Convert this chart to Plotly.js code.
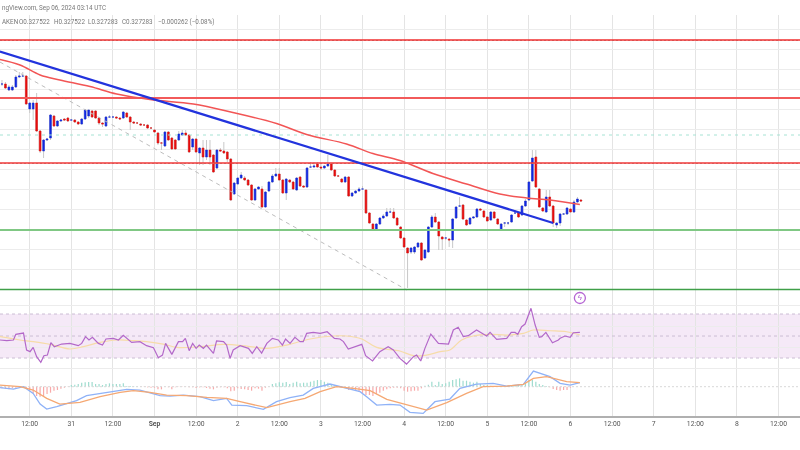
<!DOCTYPE html>
<html><head><meta charset="utf-8">
<script src="https://cdn.plot.ly/plotly-3.0.1.min.js"></script>
<style>html,body{margin:0;padding:0;background:#fff;overflow:hidden}#chart{width:800px;height:450px;filter:blur(0.55px)}</style>
</head><body><div id="chart"></div>
<script>
// hourly candles, prices in units of 0.0001, first candle = 20 h before Aug 31 00:00
const firstHour = -20;
const opens = [3510,3510,3498,3498,3504,3524,3526,3526,3460,3460,3472,3416,3376,3398,3402,3446,3426,3436,3440,3442,
3438,3438,3434,3430,3440,3446,3456,3456,3442,3432,3426,3444,3444,3444,3442,3442,3452,3444,3434,3432,3430,3428,3428,3422,3418,3412,3392,3386,3414,3402,3398,3398,3408,3412,3408,3384,3400,3372,3382,3364,3378,3368,3342,3378,3376,3374,3360,3290,
3310,3322,3322,3318,3308,3278,3300,3300,3264,3296,3314,3326,3330,3318,3292,3318,3314,3298,3324,3306,3304,3344,3344,3350,3344,3342,3346,3350,3338,3326,3320,3314,3324,3286,3292,3296,3300,3298,3252,3230,3218,3230,3242,3246,3254,3254,3242,3224,
3202,3182,3174,3174,3184,3192,3162,3174,3224,3244,3234,3204,3202,3200,3198,3242,3266,3268,3238,3230,3242,3244,3260,3256,3244,3238,3254,3240,3218,3232,3232,3234,3252,3252,3248,3266,3278,3316,3364,3300,3262,3254,3284,3266,3228,3232,3250,3250,3260,3254,3274,3278];
const closes = [3510,3502,3504,3504,3524,3526,3526,3470,3472,3472,3416,3376,3398,3400,3448,3426,3436,3438,3438,3436,
3438,3434,3430,3440,3458,3458,3444,3442,3432,3430,3444,3444,3444,3442,3440,3454,3444,3434,3432,3432,3428,3428,3422,3422,3414,3392,3392,3414,3398,3380,3380,3410,3412,3408,3374,3400,3374,3382,3364,3378,3364,3334,3378,3376,3372,3360,3278,3312,
3322,3328,3318,3308,3278,3300,3304,3264,3294,3314,3326,3330,3318,3292,3320,3314,3300,3322,3306,3304,3342,3344,3346,3344,3342,3346,3350,3338,3326,3326,3314,3324,3286,3292,3296,3300,3300,3252,3232,3218,3230,3242,3246,3254,3254,3242,3228,3202,
3184,3172,3182,3184,3192,3158,3178,3224,3244,3234,3206,3200,3202,3198,3240,3264,3266,3240,3228,3242,3244,3260,3258,3244,3236,3254,3242,3230,3230,3232,3232,3248,3252,3244,3266,3276,3314,3362,3304,3264,3256,3284,3266,3232,3232,3250,3250,3262,3254,3274,3280,3276];
const highs = [3518,3514,3508,3508,3528,3534,3534,3528,3474,3478,3492,3418,3400,3402,3450,3448,3438,3440,3442,3444,
3440,3440,3436,3442,3460,3458,3458,3458,3444,3434,3446,3448,3446,3446,3444,3456,3454,3446,3436,3434,3432,3430,3430,3424,3420,3414,3394,3416,3416,3404,3400,3416,3418,3418,3410,3402,3402,3384,3398,3398,3398,3370,3380,3382,3394,3376,3362,3314,
3324,3334,3326,3320,3310,3302,3306,3306,3296,3316,3330,3342,3342,3320,3322,3320,3316,3324,3326,3308,3344,3354,3354,3354,3352,3348,3368,3352,3340,3328,3322,3326,3326,3294,3298,3304,3306,3300,3254,3232,3232,3244,3250,3262,3262,3262,3244,3226,
3204,3184,3184,3186,3194,3194,3180,3226,3248,3252,3236,3206,3204,3202,3242,3266,3284,3270,3240,3244,3246,3262,3262,3258,3246,3256,3256,3242,3232,3234,3234,3250,3258,3254,3268,3280,3316,3378,3378,3302,3264,3298,3298,3268,3234,3252,3252,3264,3262,3278,3284,3280];
const lows = [3506,3500,3496,3496,3502,3522,3524,3468,3452,3438,3414,3372,3362,3396,3398,3424,3424,3434,3436,3434,
3436,3432,3428,3428,3438,3442,3442,3440,3428,3424,3424,3442,3442,3440,3440,3440,3442,3418,3430,3430,3426,3426,3420,3420,3412,3388,3378,3384,3396,3378,3378,3396,3406,3406,3372,3378,3372,3348,3348,3358,3348,3332,3340,3374,3370,3354,3276,3288,
3308,3320,3316,3306,3276,3276,3298,3262,3262,3294,3312,3324,3316,3290,3278,3312,3298,3296,3304,3302,3302,3342,3342,3342,3338,3340,3344,3336,3324,3324,3312,3312,3284,3284,3290,3294,3298,3250,3230,3216,3216,3228,3240,3244,3252,3240,3226,3200,
3182,3102,3170,3170,3182,3156,3160,3172,3222,3232,3178,3178,3198,3184,3182,3240,3264,3238,3226,3228,3240,3242,3256,3242,3234,3236,3240,3228,3216,3224,3228,3232,3250,3242,3246,3264,3276,3314,3302,3262,3254,3252,3264,3224,3222,3226,3248,3248,3252,3252,3272,3274];
// horizontal levels
const resistanceLevels = [3598,3482,3352];
const fibGreyLevels = [3597,3481,3351];
const midLevel = [3408];
const supportLevels = [3218,3099];
const gridLevels = [3620,3580,3540,3500,3460,3420,3380,3340,3300,3260,3220,3180,3140,3100,3068,3026,2984,2942];
// trend line and 100-hour average
const trendX = [-20.6,139], trendY = [3575,3232];
const diagX = [-20.6,96.8], diagY = [3554,3098];
const maX = [-20.6,-14.8,-9,-3.3,5.4,13.1,22.7,35.2,46.6,59.2,67.9,79.4,87,94.8,104.3,114,123.6,131.4,138.1,146.7];
const maY = [3559,3548,3528,3518,3505,3490,3479,3470,3453,3431,3409,3390,3371,3357,3331,3310,3290,3282,3278,3269];
// RSI
const rsiX = [-20.6,-18.6,-16.7,-16,-13.8,-12.9,-11.9,-11,-10,-8.8,-7.9,-6.9,-5.9,-4.9,-2.8,-.4,2,3,4.1,5.1,6.1,7.8,9,10,12.1,13.6,15,16.5,17.4,19.8,21.7,23.7,25.1,26.3,27.2,29,30.9,32.1,32.9,34,35,36,36.9,38.1,39,41,41.9,43.9,44.8,45.8,46.7,48.7,51.1,52.2,53.5,54.9,56.4,58,59.7,60.9,61.8,63.1,64.5,66,66.9,67.9,69.8,71.8,73.8,75.9,77.5,78.5,79.9,83.8,84.9,86.9,89,91.4,92.9,94.8,96.7,98.7,99.6,100.8,102,103.7,105.9,108.8,110.2,111.6,113.1,114.5,116.9,119.8,120.8,122.7,125.6,126.9,128,128.8,129.9,130.9,132.6,133.8,135,135.7,136.9,138.8,140.5,141,142.4,143.9,144.8,146.7];
const rsiY = [46.4,45.8,46.4,51.5,52.7,37.3,35.8,39.7,31.2,26.1,32.1,32.7,43.9,40.3,42.7,43.3,41.2,43.3,49.4,46.4,48.8,43.3,41.8,47.3,47.9,46.4,50.6,46.4,44.2,44.9,41.2,39.4,30.3,32.7,43.3,33.3,44.9,44.9,47.9,36.7,43.3,38.8,41.8,38.8,41.8,34.2,45.5,44.9,41.8,29.7,37.3,41.2,38.8,34.2,40.3,34.5,43.3,47.9,46.4,41.8,47.3,43.3,48.8,44.9,44.9,52.4,53.3,52.4,53.9,47.9,47.3,44.9,38.2,42.4,32.1,27.3,35.8,40.3,37.3,29.7,24.5,31.2,32.7,27.3,38.8,51.8,43.3,42.7,55.5,57.9,49.4,50.3,55.5,50,53.3,47,47.9,53.3,53.3,51.5,58.5,60.9,75.2,60,48.8,49.4,53.3,43.9,46.4,47.9,50,48.8,53,53.3];
const rsiMaX = [-20.6,-14.8,-11,-6.1,-.4,3.5,8.3,13.1,17.9,21.7,26.5,30.4,37.1,43.9,50.6,56.4,62.1,68.9,75.6,79.4,83.8,88.1,94.8,98.7,102.5,106.4,109.2,112.6,115.9,120.8,125.6,130.4,133.3,138.1,142.9,146.7];
const rsiMaY = [49.4,46.4,44.9,42.4,38.2,40.3,44.2,46.4,45.8,44.9,42.7,39.7,40.3,42.4,40.9,38.8,41.8,47.3,50,50,47.3,39.7,36.4,32.1,32.7,35.8,37.3,46.4,50,51.5,50.9,52.4,55.5,54.8,53.9,50.9];
const rsiLevels = [70,50,30];
// MACD
const macdX = [-20.6,-16.7,-13.8,-11,-9,-7.1,-4.2,-1.3,1.5,4.4,7.3,12.1,16,19.8,25.6,28.5,32.3,37.1,41,44.8,46.3,50.6,55.4,59.2,63.1,66.9,69.8,74.6,78.5,83.3,85.2,88.1,91.9,94.8,97.7,101.5,104.9,109.2,112.1,116.9,121.7,125.6,130.4,133.3,138.1,141,143.9,146.7];
const macdY = [-.03,-.07,0,-.2,-.52,-.67,-.6,-.5,-.42,-.27,-.22,-.13,-.08,-.1,-.27,-.28,-.25,-.3,-.42,-.35,-.55,-.57,-.68,-.45,-.33,-.25,-.05,.08,-.02,-.15,-.3,-.55,-.53,-.55,-.77,-.8,-.45,-.37,-.05,.08,.1,.02,.07,.47,.3,.1,.05,.12];
const signalX = [-20.6,-14.8,-11,-7.1,-3.3,2.5,8.3,14.1,17.9,22.7,27.5,33.3,39.1,44.8,48.7,56.4,63.1,67.4,71.8,76.5,81.4,86.2,91,94.8,98.7,102.5,108.3,114,118.8,125.6,130.4,133.3,137.1,142.9,146.7];
const signalY = [.05,0,-.1,-.35,-.52,-.47,-.3,-.17,-.12,-.17,-.25,-.27,-.32,-.35,-.45,-.63,-.45,-.35,-.15,0,-.05,-.12,-.38,-.48,-.6,-.7,-.48,-.2,0,.02,.07,.25,.3,.15,.12];
const histogram = [-.05,-.07,-.08,-.05,-.03,-.02,-.02,-.05,-.12,-.2,-.28,-.3,-.28,-.22,-.18,-.12,-.1,-.06,-.03,-.01,
.05,.06,.08,.12,.13,.14,.14,.08,.08,.05,.08,.1,.08,.08,.08,.1,.02,.02,.01,.01,-.01,-.01,-.02,-.03,-.03,-.08,-.08,0,-.02,-.08,-.02,-.01,-.01,-.01,-.02,-.02,-.04,-.02,-.02,-.04,-.06,-.08,-.03,-.02,-.02,-.05,-.14,-.12,
-.05,-.07,-.08,-.1,-.12,-.05,-.06,-.12,-.03,0,.08,.1,.13,.12,.14,.08,.12,.15,.1,.12,.12,.15,.18,.2,.2,.15,.12,.08,.03,.01,-.02,-.04,-.1,-.1,-.1,-.15,-.2,-.25,-.25,-.28,-.22,-.18,-.12,-.08,-.05,-.03,-.03,-.05,
-.12,-.15,-.14,-.12,-.12,-.05,.03,.06,.15,.05,.15,.08,.1,.15,.2,.22,.25,.18,.18,.15,.12,.15,.08,.05,.05,.03,.02,.01,.01,.01,.02,.03,.04,.06,.08,.12,.2,.2,.15,.08,.05,.02,-.02,-.07,-.1,-.12,-.1,-.1,-.03,0,0,0];
// time axis
const tickHours = [-12,0,12,24,36,48,60,72,84,96,108,120,132,144,156,168,180,192,204];
const tickLabels = ['12:00','31','12:00','<b>Sep</b>','12:00','2','12:00','3','12:00','4','12:00','5','12:00','6','12:00','7','12:00','8','12:00'];
const alertPoint = {x:[146.7], y:[3082]};
const xSpan = [-20.57,210.2];
// header pieces as visible, with their left edges in page pixels
const headerTop = 'ngView.com, Sep 06, 2024 03:14 UTC';
const headerFields = ['AKEN','O0.327522','H0.327522','L0.327283','C0.327283','−0.000262 (−0.08%)'];
const headerFieldLeft = [0,17,52,86,120,156];

const hours = opens.map((_,i)=>firstHour+i);
const bodyTop = opens.map((o,i)=>Math.max(o,closes[i]));
const bodyBot = opens.map((o,i)=>Math.min(o,closes[i]));
const UP='#1128e0', DOWN='#e60d0d', WICK='#c8c8c8';
const lvl=(ys,color,width,dash,yaxis)=>ys.map(v=>({type:'scatter',mode:'lines',x:xSpan,y:[v,v],yaxis:yaxis||'y',
  line:{color,width,dash:dash||'solid'},hoverinfo:'skip'}));
const data=[
 ...lvl(rsiLevels,'#cbbdd4',1,'3px,3px','y2'),
 ...lvl(midLevel,'#a6e3d4',1,'3px,4px'),
 ...lvl(fibGreyLevels,'#a8a8a8',1,'2px,2px'),
 {type:'scatter',mode:'lines',x:diagX,y:diagY,line:{color:'#bdbdbd',width:1,dash:'4px,4px'},hoverinfo:'skip'},
 {type:'candlestick',x:hours,open:opens,high:highs,low:lows,close:closes,whiskerwidth:0,
  increasing:{line:{color:WICK,width:1},fillcolor:WICK},decreasing:{line:{color:WICK,width:1},fillcolor:WICK},hoverinfo:'skip'},
 {type:'candlestick',x:hours,open:opens,high:bodyTop,low:bodyBot,close:closes,whiskerwidth:0,width:0.7,
  increasing:{line:{color:UP,width:0.5},fillcolor:UP},decreasing:{line:{color:DOWN,width:0.5},fillcolor:DOWN},hoverinfo:'skip'},
 ...lvl([resistanceLevels[0]],'#f03030',1.4),
 ...lvl([resistanceLevels[1]],'#f25a5a',2),
 ...lvl([resistanceLevels[2]],'#f03a3a',1.6),
 ...lvl([supportLevels[0]],'#80c884',1.8),
 ...lvl([supportLevels[1]],'#3f9f48',1.5),
 {type:'scatter',mode:'lines',x:maX,y:maY,line:{color:'#f25555',width:1.5,shape:'spline'},hoverinfo:'skip'},
 {type:'scatter',mode:'lines',x:trendX,y:trendY,line:{color:'#2233dd',width:2.2},hoverinfo:'skip'},
 {type:'scatter',mode:'markers+text',x:alertPoint.x,y:alertPoint.y,text:['ϟ'],textposition:'middle center',
  textfont:{size:8,color:'#b060d0'},marker:{symbol:'circle-open',size:11,color:'#b565d3',line:{width:1.3,color:'#b565d3'}},hoverinfo:'skip'},
 {type:'scatter',mode:'lines',x:rsiMaX,y:rsiMaY,yaxis:'y2',line:{color:'#f6dca8',width:1.2,shape:'spline'},hoverinfo:'skip'},
 {type:'scatter',mode:'lines',x:rsiX,y:rsiY,yaxis:'y2',line:{color:'#b368c9',width:1.2},hoverinfo:'skip'},
 {type:'bar',x:hours,y:histogram,yaxis:'y3',width:0.35,marker:{color:histogram.map(v=>v>=0?'#9fdccf':'#f8aaaa')},hoverinfo:'skip'},
 {type:'scatter',mode:'lines',x:[xSpan[0],xSpan[1]],y:[0,0],yaxis:'y3',line:{color:'#d8d8d8',width:1,dash:'2px,2px'},hoverinfo:'skip'},
 {type:'scatter',mode:'lines',x:macdX,y:macdY,yaxis:'y3',line:{color:'#8fb2f7',width:1.3},hoverinfo:'skip'},
 {type:'scatter',mode:'lines',x:signalX,y:signalY,yaxis:'y3',line:{color:'#f5a873',width:1.3},hoverinfo:'skip'}
];
const dom=[34/450,435/450];
const hdr=(text,left,top)=>({xref:'paper',yref:'paper',x:left/800,y:1-top/450,xanchor:'left',yanchor:'middle',text,showarrow:false,
  xshift:-1,font:{size:6.3,color:'#777'}});
const layout={width:800,height:450,margin:{l:0,r:0,t:0,b:0},paper_bgcolor:'#fff',plot_bgcolor:'#fff',showlegend:false,
 font:{family:'Roboto, "Liberation Sans", sans-serif',size:8,color:'#666'},
 xaxis:{range:xSpan,type:'linear',tickmode:'array',tickvals:tickHours,ticktext:tickLabels,showgrid:true,gridcolor:'#e4e4e4',gridwidth:1,
   zeroline:false,showline:true,linecolor:'#b0b0b0',linewidth:1.5,ticks:'',tickfont:{size:6.8,color:'#555'},rangeslider:{visible:false},automargin:false},
 yaxis:{domain:dom,range:[2846,3648],tickmode:'array',tickvals:gridLevels,showticklabels:false,showgrid:true,gridcolor:'#ececec',zeroline:false,fixedrange:true},
 yaxis2:{domain:dom,overlaying:'y',range:[-22.7,341.8],showgrid:false,showticklabels:false,zeroline:false},
 yaxis3:{domain:dom,overlaying:'y',range:[-0.879,11.15],showgrid:false,showticklabels:false,zeroline:false},
 shapes:[{type:'rect',xref:'paper',x0:0,x1:1,yref:'y2',y0:rsiLevels[2],y1:rsiLevels[0],fillcolor:'rgba(156,39,176,0.10)',line:{width:0},layer:'below'}],
 annotations:[hdr(headerTop,1,8),...headerFields.map((t,i)=>hdr(t,headerFieldLeft[i]+1,22))]};
Plotly.newPlot('chart',data,layout,{staticPlot:true,displayModeBar:false});
</script></body></html>
